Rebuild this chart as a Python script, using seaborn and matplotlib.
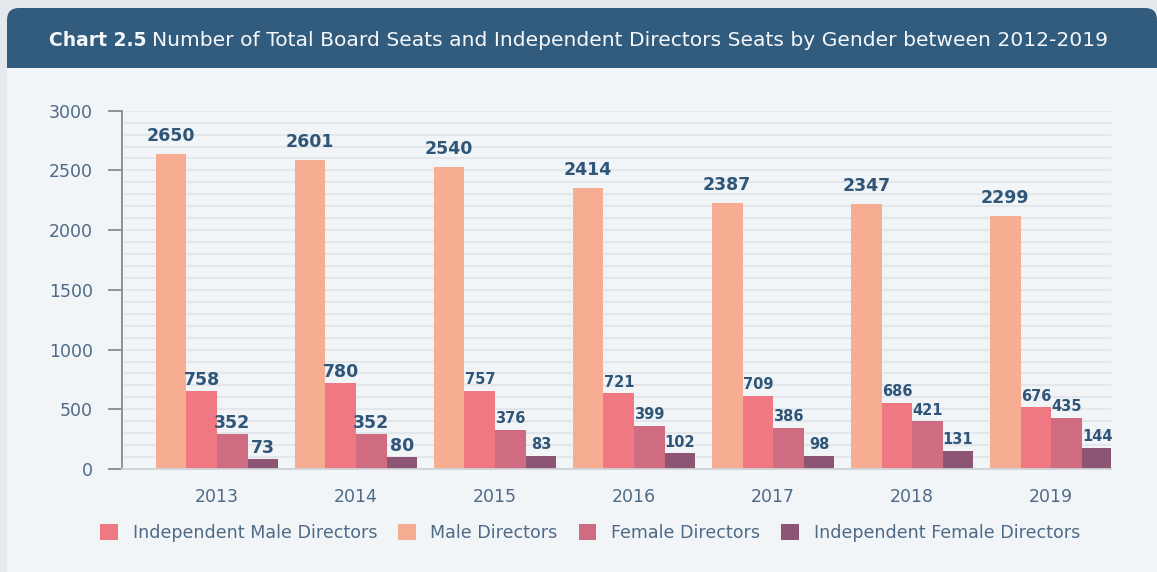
import pandas as pd
import matplotlib
matplotlib.use('Agg')
import matplotlib.pyplot as plt
from matplotlib.patches import FancyBboxPatch, Rectangle, Patch
from matplotlib.ticker import MultipleLocator
import seaborn as sns

years = ['2013', '2014', '2015', '2016', '2017', '2018', '2019']
series = ['Male Directors', 'Independent Male Directors',
          'Female Directors', 'Independent Female Directors']
legend_order = ['Independent Male Directors', 'Male Directors',
                'Female Directors', 'Independent Female Directors']

# numbers printed above the bars
male_labels = [2650, 2601, 2540, 2414, 2387, 2347, 2299]
indep_male_labels = [758, 780, 757, 721, 709, 686, 676]
female_labels = [352, 352, 376, 399, 386, 421, 435]
indep_female_labels = [73, 80, 83, 102, 98, 131, 144]

# bar heights as drawn in the source (they don't follow the printed numbers)
male_bars = [2637, 2587, 2531, 2350, 2224, 2219, 2118]
indep_male_bars = [653, 717, 653, 634, 614, 555, 516]
female_bars = [290, 290, 327, 360, 346, 399, 427]
indep_female_bars = [81, 98, 109, 131, 109, 153, 176]

colors = {'Male Directors': '#f7ad91',
          'Independent Male Directors': '#f07882',
          'Female Directors': '#d06c81',
          'Independent Female Directors': '#8b5573'}

bars = [male_bars, indep_male_bars, female_bars, indep_female_bars]
labels = [male_labels, indep_male_labels, female_labels, indep_female_labels]

rows = []
for name, vals in zip(series, bars):
    for y, v in zip(years, vals):
        rows.append({'Year': y, 'Series': name, 'Seats': v})
df = pd.DataFrame(rows)

plt.rcParams['font.family'] = ['DejaVu Sans']

W, H = 1157, 572
fig = plt.figure(figsize=(W / 100, H / 100), dpi=100)
fig.patch.set_facecolor('#e5e8ec')

# background panel + header band
bg = fig.add_axes([0, 0, 1, 1], zorder=-5)
bg.set_xlim(0, W)
bg.set_ylim(H, 0)
bg.axis('off')
bg.add_patch(FancyBboxPatch((7, 8), W - 7, H, boxstyle='round,pad=0,rounding_size=12',
                            fc='#315c7d', ec='none'))
bg.add_patch(Rectangle((7, 68), W, H, fc='#f2f5f8', ec='none'))

t1 = bg.text(49, 40, 'Chart 2.5', color='#f5f7fa', fontsize=13.5, fontweight='bold',
             va='center', ha='left')
fig.canvas.draw()
ext = t1.get_window_extent()
bg.text(ext.x1 + 5, 40, 'Number of Total Board Seats and Independent Directors Seats by Gender between 2012-2019',
        color='#f5f7fa', fontsize=14.6, va='center', ha='left')

ax = fig.add_axes([122 / W, 1 - 469 / H, (1111 - 122) / W, (469 - 110.7) / H], zorder=1)
ax.set_facecolor('none')

sns.barplot(data=df, x='Year', y='Seats', hue='Series', hue_order=series,
            palette=colors, width=0.88, saturation=1, errorbar=None,
            linewidth=0, legend=False, ax=ax)

ax.set_xlim(-0.683, 6.43)
ax.set_ylim(0, 3000)
ax.yaxis.set_major_locator(MultipleLocator(500))
ax.yaxis.set_minor_locator(MultipleLocator(100))
ax.grid(which='both', axis='y', color='#e3e7eb', lw=1.5)
ax.set_axisbelow(True)
ax.set_xlabel('')
ax.set_ylabel('')

for s in ['top', 'right']:
    ax.spines[s].set_visible(False)
ax.spines['left'].set_color('#8a8a8a')
ax.spines['left'].set_linewidth(1.3)
ax.spines['bottom'].set_color('#cfd3d8')
ax.spines['bottom'].set_linewidth(1.3)

ax.tick_params(axis='y', which='major', direction='out', length=10, width=1.3,
               color='#8a8a8a', labelcolor='#4f6a86', labelsize=12.5, pad=11)
ax.tick_params(axis='y', which='minor', length=0)
ax.tick_params(axis='x', length=0, labelcolor='#4f6a86', labelsize=12.5, pad=14)

# value labels
for i, cont in enumerate(ax.containers):
    for j, rect in enumerate(cont):
        big = i == 0 or j < 2
        off = 13 if i == 0 else 8
        ax.annotate(str(labels[i][j]),
                    (rect.get_x() + rect.get_width() / 2, rect.get_height()),
                    xytext=(0, off), textcoords='offset points',
                    ha='center', va='center', fontweight='bold',
                    fontsize=12.5 if big else 10.5, color='#2f5678')

handles = [Patch(fc=colors[n], ec='none') for n in legend_order]
fig.legend(handles, legend_order, loc='center', bbox_to_anchor=(590 / W, 1 - 533 / H),
           ncol=4, frameon=False, fontsize=12.6, labelcolor='#4f6a86',
           handlelength=1.0, handleheight=1.0, handletextpad=0.85, columnspacing=1.2)

fig.savefig('out.png', dpi=100, facecolor=fig.get_facecolor())
